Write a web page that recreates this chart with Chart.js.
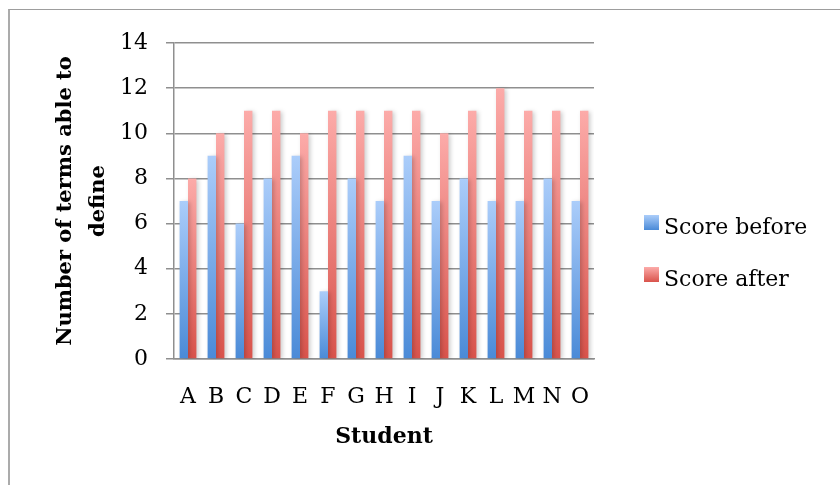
<!DOCTYPE html>
<html>
<head>
<meta charset="utf-8">
<script src="https://cdn.jsdelivr.net/npm/chart.js@4/dist/chart.umd.min.js"></script>
<style>
  html, body { margin: 0; padding: 0; background: #fff; }
  body { position: relative; width: 840px; height: 485px; overflow: hidden; }
  #frame { position: absolute; left: 8px; top: 9px; width: 900px; height: 600px;
           border-top: 1px solid #9d9d9d; border-left: 2px solid #ababab; }
  #wrap { position: absolute; left: 0; top: 0; width: 840px; height: 485px; }
</style>
</head>
<body>
<div id="frame"></div>
<div id="wrap"><canvas id="chart" width="840" height="485"></canvas></div>
<script>
// Data
const students = ['A', 'B', 'C', 'D', 'E', 'F', 'G', 'H', 'I', 'J', 'K', 'L', 'M', 'N', 'O'];
const scoreBefore = [7, 9, 6, 8, 9, 3, 8, 7, 9, 7, 8, 7, 7, 8, 7];
const scoreAfter = [8, 10, 11, 11, 10, 11, 11, 11, 11, 10, 11, 12, 11, 11, 11];
const seriesNames = ['Score before', 'Score after'];
const yTitleLines = ['Number of terms able to', 'define'];
const xTitle = 'Student';

// Styling
const FONT = "'DejaVu Serif', 'Liberation Serif', serif";
const GRID = '#8f8f8f';
const BLUE = ['#abcdfa', '#4a8ad7'];   // top, bottom of each bar
const RED = ['#fcaba9', '#d9534b'];
const palette = [BLUE, RED];

// vertical gradient spanning each bar from its top down to zero
function barFill(stops) {
  return (ctx) => {
    const chart = ctx.chart;
    if (!chart.chartArea || ctx.type !== 'data') return stops[1];
    const y = chart.scales.y;
    const top = y.getPixelForValue(ctx.parsed.y);
    const base = y.getPixelForValue(0);
    if (!isFinite(top) || !isFinite(base) || top === base) return stops[1];
    const g = chart.ctx.createLinearGradient(0, top, 0, base);
    g.addColorStop(0, stops[0]);
    g.addColorStop(1, stops[1]);
    return g;
  };
}

// soft drop shadow behind the bars
const barShadow = {
  id: 'barShadow',
  beforeDatasetsDraw(chart) {
    const c = chart.ctx;
    c.save();
    c.shadowColor = 'rgba(0,0,0,0.2)';
    c.shadowBlur = 4;
    c.shadowOffsetX = 2;
    c.shadowOffsetY = 1;
  },
  afterDatasetsDraw(chart) { chart.ctx.restore(); }
};

// legend column to the right of the plot
const sideLegend = {
  id: 'sideLegend',
  afterDraw(chart, args, o) {
    const c = chart.ctx;
    const a = chart.chartArea;
    c.save();
    c.font = o.size + 'px ' + FONT;
    c.textBaseline = 'alphabetic';
    c.textAlign = 'left';
    chart.data.datasets.forEach((ds, i) => {
      const bx = a.right + o.offsetX;
      const by = o.top + i * o.spacing;
      const g = c.createLinearGradient(0, by, 0, by + o.box);
      g.addColorStop(0, palette[i][0]);
      g.addColorStop(1, palette[i][1]);
      c.fillStyle = g;
      c.fillRect(bx, by, o.box, o.box);
      c.fillStyle = '#000';
      c.fillText(ds.label, bx + o.textGap, by + o.baseline);
    });
    c.restore();
  }
};

new Chart(document.getElementById('chart'), {
  type: 'bar',
  data: {
    labels: students,
    datasets: [
      { label: seriesNames[0], data: scoreBefore, backgroundColor: barFill(BLUE), borderWidth: 0 },
      { label: seriesNames[1], data: scoreAfter, backgroundColor: barFill(RED), borderWidth: 0 }
    ]
  },
  options: {
    responsive: false,
    animation: false,
    devicePixelRatio: 1,
    layout: { padding: { left: 49, top: 43, right: 246, bottom: 0 } },
    datasets: { bar: { categoryPercentage: 0.6, barPercentage: 1.0 } },
    plugins: {
      legend: { display: false },
      tooltip: { enabled: false },
      sideLegend: { offsetX: 50, top: 215, spacing: 52, box: 15, textGap: 20, baseline: 19, size: 22 }
    },
    scales: {
      x: {
        grid: { display: false },
        border: { display: true, color: GRID, width: 1.5 },
        ticks: { color: '#000', font: { family: FONT, size: 22 }, padding: 17, maxRotation: 0, autoSkip: false },
        title: { display: true, text: xTitle, color: '#000',
                 font: { family: FONT, size: 22, weight: 'bold' }, padding: { top: 0, bottom: 35 } },
        afterFit(scale) { scale.height = 126; }
      },
      y: {
        min: 0,
        max: 14,
        ticks: { stepSize: 2, color: '#000', font: { family: FONT, size: 22 }, padding: 18 },
        grid: { color: GRID, lineWidth: 1.5, tickLength: 8 },
        border: { color: GRID, width: 1.5 },
        title: { display: true, text: yTitleLines, color: '#000',
                 font: { family: FONT, size: 21, weight: 'bold', lineHeight: 1.57 }, padding: { top: 0, bottom: 0 } },
        afterFit(scale) { scale.width = 125; }
      }
    }
  },
  plugins: [barShadow, sideLegend]
});
</script>
</body>
</html>
